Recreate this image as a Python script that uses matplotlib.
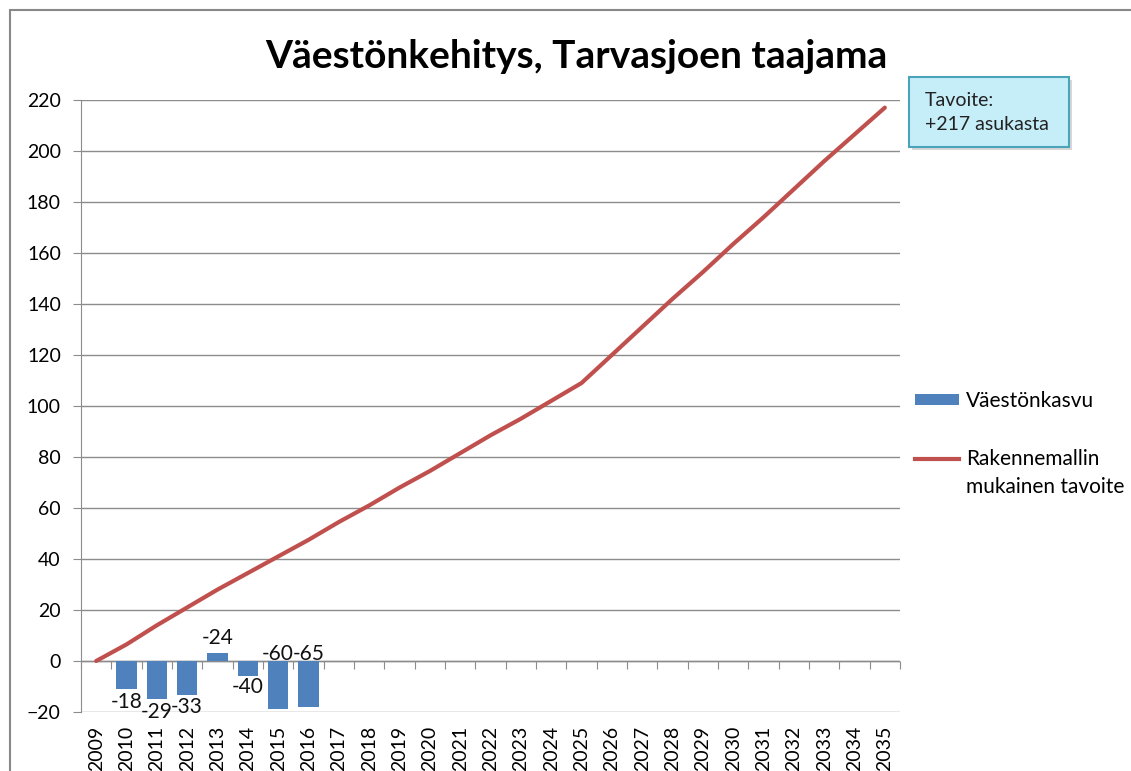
import matplotlib.pyplot as plt
from matplotlib.patches import Rectangle, FancyBboxPatch, Patch
from matplotlib.lines import Line2D

plt.rcParams['font.family'] = ['Lato', 'DejaVu Sans']

# Data
years = [str(y) for y in range(2009, 2036)]
growth_years = ["2010", "2011", "2012", "2013", "2014", "2015", "2016"]
growth = [-11, -15, -13.5, 3, -6, -19, -18]
growth_labels = ["-18", "-29", "-33", "-24", "-40", "-60", "-65"]
target = [0, 6.5, 14, 21, 28, 34.5, 41, 47.5, 54.5, 61, 68, 74.5, 81.5, 88.5, 95, 102, 109,
          120, 131, 142, 152.5, 163.5, 174, 185, 196, 206.5, 217]

bar_color = "#4f81bd"
line_color = "#c0504d"
grid_color = "#8c8c8c"

W, H = 1131, 771
fig = plt.figure(figsize=(W / 100, H / 100), dpi=100)
fig.patch.set_facecolor("white")

# chart area border (cropped at right/bottom like the original)
fig.patches.append(Rectangle((10 / W, -0.05), 1.2, 1 - 10 / H + 0.05,
                             transform=fig.transFigure, fill=False,
                             edgecolor="#888888", linewidth=1.5))

ax = fig.add_axes([81 / W, 1 - 712 / H, (900 - 81) / W, (712 - 100) / H])

xpos = {y: i for i, y in enumerate(years)}
bx = [xpos[y] for y in growth_years]
bars = ax.bar(bx, growth, width=0.66, color=bar_color, zorder=3)
ax.plot(range(len(years)), target, color=line_color, linewidth=3, zorder=4,
        solid_capstyle="round")

# data labels (Excel-like placement)
offsets = [-9.5, -9, -8, 11, -8, 5, 5]
for i, (b, txt) in enumerate(zip(bars, growth_labels)):
    h = b.get_height()
    base = 0 if i >= 5 else h
    ax.annotate(txt, (b.get_x() + b.get_width() / 2, base), xytext=(0, offsets[i]),
                textcoords="offset points", ha="center", va="center",
                fontsize=15, color="#111111", zorder=5)

ax.set_xlim(-0.5, len(years) - 0.5)
ax.set_ylim(-20, 220)
ax.set_yticks(range(-20, 221, 20))
ax.set_xticks(range(len(years)))
ax.set_xticklabels(years, rotation=90, fontsize=14)
ax.tick_params(axis="x", length=0, pad=10)
ax.tick_params(axis="y", labelsize=14, length=6, color=grid_color, pad=8.5)
ax.yaxis.grid(True, color=grid_color, linewidth=1)
ax.set_axisbelow(True)
for s in ["top", "right", "bottom"]:
    ax.spines[s].set_visible(False)
ax.spines["left"].set_color(grid_color)

# category axis at zero with boundary tick marks
ax.axhline(0, color=grid_color, linewidth=1, zorder=2)
sec = ax.secondary_xaxis(0, transform=ax.transData)
sec.set_xticks([i - 0.5 for i in range(len(years) + 1)])
sec.set_xticklabels([])
sec.tick_params(length=6, color=grid_color, direction="out")
sec.spines["bottom"].set_visible(False)

fig.text(0.51, 1 - 56 / H, "Väestönkehitys, Tarvasjoen taajama", ha="center", va="center",
         fontsize=28, fontweight="bold", color="black")

handles = [Patch(facecolor=bar_color, label="Väestönkasvu"),
           Line2D([0], [0], color=line_color, linewidth=3, label="Rakennemallin")]
fig.legend(handles=handles, loc="upper left", bbox_to_anchor=(915 / W, 1 - 391 / H),
           frameon=False, fontsize=15, handlelength=2.1, handleheight=0.38,
           labelspacing=1.84, handletextpad=0.35, borderpad=0, borderaxespad=0)
fig.text(966 / W, 1 - 493 / H, "mukainen tavoite", ha="left", va="baseline", fontsize=15)

# callout box
shadow = FancyBboxPatch((912 / W, 1 - 150 / H), 160 / W, 70 / H,
                        boxstyle="square,pad=0", transform=fig.transFigure,
                        facecolor="#bdbdbd", edgecolor="none", alpha=0.6)
box = FancyBboxPatch((909 / W, 1 - 147 / H), 160 / W, 70 / H,
                     boxstyle="square,pad=0", transform=fig.transFigure,
                     facecolor="#c6eef9", edgecolor="#4aa3b8", linewidth=1.5)
fig.patches.extend([shadow, box])
fig.text(925 / W, 1 - 112.5 / H, "Tavoite:\n+217 asukasta", ha="left", va="center",
         fontsize=14, linespacing=1.45, color="#222222")

fig.savefig("out.png", dpi=100)
